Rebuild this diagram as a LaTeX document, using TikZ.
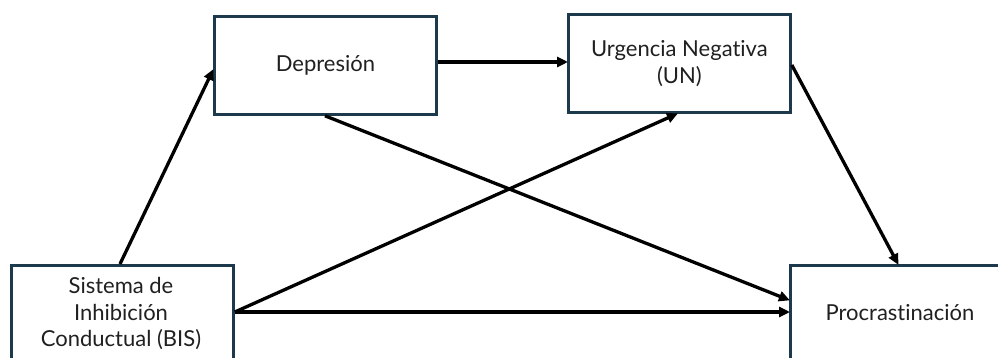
\documentclass[tikz,border=0pt]{standalone}
\usepackage{fontspec}
\setmainfont{Lato}[Ligatures={NoCommon}]
\usetikzlibrary{arrows.meta}
\definecolor{boxcol}{HTML}{1D3A4C}
\definecolor{txtcol}{HTML}{202020}
\tikzset{
  txt/.style={text=txtcol, align=center, font=\fontsize{22}{26.5}\selectfont},
  varbox/.style={txt, draw=boxcol, line width=2.8pt, fill=white, anchor=north west,
    minimum width=222pt, minimum height=98pt, inner sep=0pt},
  conn/.style={draw=black, line width=3.3pt, -{Triangle[length=11pt,width=10pt]}, shorten >=-1pt}
}
\begin{document}
\begin{tikzpicture}[x=1pt,y=-1pt]
\useasboundingbox (0,0) rectangle (998,358);
\node[varbox] (dep) at (213,15) {Depresión};
\node[varbox] (un) at (567,13) {Urgencia Negativa\\(UN)};
\node[varbox] (bis) at (10,264) {};
\node[txt] (bistxt) at (121,314) {Sistema de\\Inhibición\\Conductual (BIS)};
\node[varbox] (pro) at (789,264) {};
\node[txt] (protxt) at (900,313) {Procrastinación};
% connectors
\draw[conn] ([xshift=110pt]bis.north west) -- ([yshift=-55pt]dep.north west);
\draw[conn] ([yshift=-47pt]dep.north east) -- ([yshift=-49pt]un.north west);
\draw[conn] ([xshift=112pt]dep.south west) -- ([yshift=-36pt]pro.north west);
\draw[conn] ([yshift=-48pt]bis.north east) -- ([xshift=110pt]un.south west);
\draw[conn] ([yshift=-48pt]bis.north east) -- ([yshift=-48pt]pro.north west);
\draw[conn] ([yshift=-52pt]un.north east) -- ([xshift=109pt]pro.north west);
\end{tikzpicture}
\end{document}
